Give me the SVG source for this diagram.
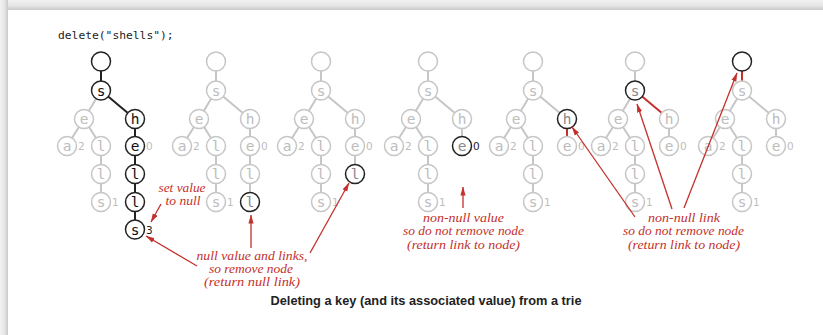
<svg xmlns="http://www.w3.org/2000/svg" width="823" height="335" viewBox="0 0 823 335">
<defs>
<linearGradient id="gTop" x1="0" y1="0" x2="0" y2="1"><stop offset="0" stop-color="#f2f2f2"/><stop offset="0.6" stop-color="#e4e4e4"/><stop offset="1" stop-color="#c8c8c8"/></linearGradient>
<linearGradient id="gLeft" x1="0" y1="0" x2="1" y2="0"><stop offset="0" stop-color="#f2f2f2"/><stop offset="0.6" stop-color="#e4e4e4"/><stop offset="1" stop-color="#c8c8c8"/></linearGradient>
<marker id="ah" markerUnits="userSpaceOnUse" markerWidth="9" markerHeight="6" refX="8.5" refY="3" orient="auto"><path d="M0,0.4 L9,3 L0,5.6 z" fill="#c4302b"/></marker>
<style>
.n circle{fill:#fff;stroke:#c6c6c6;stroke-width:1.5}
.n.k circle{stroke:#222}
.n text{font-family:"DejaVu Sans Mono",monospace;font-size:14.5px;fill:#bdbdbd;text-anchor:middle}
.n.kt text{fill:#111}
.n text.m{fill:#8a8a8a}
.n text.v{font-family:"DejaVu Sans",sans-serif;font-size:10.5px;text-anchor:start;fill:#bdbdbd}
.n text.vk{fill:#222}
.eg{stroke:#c6c6c6;stroke-width:2;fill:none}
.ek{stroke:#222;stroke-width:2;fill:none}
.er{stroke:#c4302b;stroke-width:2;fill:none}
.ar{stroke:#c4302b;stroke-width:1.3;fill:none;marker-end:url(#ah)}
.an{font-family:"Liberation Serif",serif;font-style:italic;font-size:12px;fill:#c4302b;text-anchor:middle}
</style>
</defs>
<rect width="823" height="335" fill="#fff"/>
<rect x="0" y="0" width="823" height="10" fill="url(#gTop)"/>
<rect x="0" y="0" width="8" height="335" fill="url(#gLeft)"/>
<text x="58" y="38.5" font-family="DejaVu Sans Mono,monospace" font-size="11.3" fill="#222">delete("shells");</text>

<g id="connectors">
<line class="ek" x1="101" y1="61.5" x2="101" y2="90.5"/>
<line class="eg" x1="101" y1="90.5" x2="84" y2="119"/>
<line class="ek" x1="101" y1="90.5" x2="135" y2="119"/>
<line class="eg" x1="84" y1="119" x2="67" y2="146"/>
<line class="eg" x1="84" y1="119" x2="101" y2="146"/>
<line class="eg" x1="101" y1="146" x2="101" y2="202"/>
<line class="ek" x1="135" y1="119" x2="135" y2="229.5"/>
<line class="eg" x1="216" y1="61.5" x2="216" y2="90.5"/>
<line class="eg" x1="216" y1="90.5" x2="199" y2="119"/>
<line class="eg" x1="216" y1="90.5" x2="250" y2="119"/>
<line class="eg" x1="199" y1="119" x2="182" y2="146"/>
<line class="eg" x1="199" y1="119" x2="216" y2="146"/>
<line class="eg" x1="216" y1="146" x2="216" y2="202"/>
<line class="eg" x1="250" y1="119" x2="250" y2="202"/>
<line class="eg" x1="321" y1="61.5" x2="321" y2="90.5"/>
<line class="eg" x1="321" y1="90.5" x2="304" y2="119"/>
<line class="eg" x1="321" y1="90.5" x2="355" y2="119"/>
<line class="eg" x1="304" y1="119" x2="287" y2="146"/>
<line class="eg" x1="304" y1="119" x2="321" y2="146"/>
<line class="eg" x1="321" y1="146" x2="321" y2="202"/>
<line class="eg" x1="355" y1="119" x2="355" y2="174"/>
<line class="eg" x1="428" y1="61.5" x2="428" y2="90.5"/>
<line class="eg" x1="428" y1="90.5" x2="411" y2="119"/>
<line class="eg" x1="428" y1="90.5" x2="462" y2="119"/>
<line class="eg" x1="411" y1="119" x2="394" y2="146"/>
<line class="eg" x1="411" y1="119" x2="428" y2="146"/>
<line class="eg" x1="428" y1="146" x2="428" y2="202"/>
<line class="eg" x1="462" y1="119" x2="462" y2="146"/>
<line class="eg" x1="533" y1="61.5" x2="533" y2="90.5"/>
<line class="eg" x1="533" y1="90.5" x2="516" y2="119"/>
<line class="eg" x1="533" y1="90.5" x2="567" y2="119"/>
<line class="eg" x1="516" y1="119" x2="499" y2="146"/>
<line class="eg" x1="516" y1="119" x2="533" y2="146"/>
<line class="eg" x1="533" y1="146" x2="533" y2="202"/>
<line class="er" x1="567" y1="119" x2="567" y2="146"/>
<line class="eg" x1="635" y1="61.5" x2="635" y2="90.5"/>
<line class="eg" x1="635" y1="90.5" x2="618" y2="119"/>
<line class="er" x1="635" y1="90.5" x2="669" y2="119"/>
<line class="eg" x1="618" y1="119" x2="601" y2="146"/>
<line class="eg" x1="618" y1="119" x2="635" y2="146"/>
<line class="eg" x1="635" y1="146" x2="635" y2="202"/>
<line class="eg" x1="669" y1="119" x2="669" y2="146"/>
<line class="er" x1="742" y1="61.5" x2="742" y2="90.5"/>
<line class="eg" x1="742" y1="90.5" x2="725" y2="119"/>
<line class="eg" x1="742" y1="90.5" x2="776" y2="119"/>
<line class="eg" x1="725" y1="119" x2="708" y2="146"/>
<line class="eg" x1="725" y1="119" x2="742" y2="146"/>
<line class="eg" x1="742" y1="146" x2="742" y2="202"/>
<line class="eg" x1="776" y1="119" x2="776" y2="146"/>
</g>

<g id="t1-root" class="n k kt"><circle cx="101" cy="61.5" r="9.5"/></g>
<g id="t1-s" class="n k kt"><circle cx="101" cy="90.5" r="9.5"/><text x="101" y="95.5">s</text></g>
<g id="t1-e" class="n"><circle cx="84" cy="119" r="9.5"/><text x="84" y="124">e</text></g>
<g id="t1-h" class="n k kt"><circle cx="135" cy="119" r="9.5"/><text x="135" y="124">h</text></g>
<g id="t1-a" class="n"><circle cx="67" cy="146" r="9.5"/><text x="67" y="151">a</text><text class="v" x="78" y="150">2</text></g>
<g id="t1-l" class="n"><circle cx="101" cy="146" r="9.5"/><text x="101" y="151">l</text></g>
<g id="t1-e2" class="n k kt"><circle cx="135" cy="146" r="9.5"/><text x="135" y="151">e</text><text class="v" x="146" y="150" style="fill:#bdbdbd">0</text></g>
<g id="t1-l2" class="n"><circle cx="101" cy="174" r="9.5"/><text x="101" y="179">l</text></g>
<g id="t1-s2" class="n"><circle cx="101" cy="202" r="9.5"/><text x="101" y="207">s</text><text class="v" x="112" y="206">1</text></g>
<g id="t1-l3" class="n k kt"><circle cx="135" cy="174" r="9.5"/><text x="135" y="179">l</text></g>
<g id="t1-l4" class="n k kt"><circle cx="135" cy="202" r="9.5"/><text x="135" y="207">l</text></g>
<g id="t1-s3" class="n k kt"><circle cx="135" cy="229.5" r="9.5"/><text x="135" y="234.5">s</text><text class="v vk" x="146" y="234">3</text></g>

<g id="t2-root" class="n"><circle cx="216" cy="61.5" r="9.5"/></g>
<g id="t2-s" class="n"><circle cx="216" cy="90.5" r="9.5"/><text x="216" y="95.5">s</text></g>
<g id="t2-e" class="n"><circle cx="199" cy="119" r="9.5"/><text x="199" y="124">e</text></g>
<g id="t2-h" class="n"><circle cx="250" cy="119" r="9.5"/><text x="250" y="124">h</text></g>
<g id="t2-a" class="n"><circle cx="182" cy="146" r="9.5"/><text x="182" y="151">a</text><text class="v" x="193" y="150">2</text></g>
<g id="t2-l" class="n"><circle cx="216" cy="146" r="9.5"/><text x="216" y="151">l</text></g>
<g id="t2-e2" class="n"><circle cx="250" cy="146" r="9.5"/><text x="250" y="151">e</text><text class="v" x="261" y="150">0</text></g>
<g id="t2-l2" class="n"><circle cx="216" cy="174" r="9.5"/><text x="216" y="179">l</text></g>
<g id="t2-s2" class="n"><circle cx="216" cy="202" r="9.5"/><text x="216" y="207">s</text><text class="v" x="227" y="206">1</text></g>
<g id="t2-l3" class="n"><circle cx="250" cy="174" r="9.5"/><text x="250" y="179">l</text></g>
<g id="t2-l4" class="n k"><circle cx="250" cy="202" r="9.5"/><text class="m" x="250" y="207">l</text></g>

<g id="t3-root" class="n"><circle cx="321" cy="61.5" r="9.5"/></g>
<g id="t3-s" class="n"><circle cx="321" cy="90.5" r="9.5"/><text x="321" y="95.5">s</text></g>
<g id="t3-e" class="n"><circle cx="304" cy="119" r="9.5"/><text x="304" y="124">e</text></g>
<g id="t3-h" class="n"><circle cx="355" cy="119" r="9.5"/><text x="355" y="124">h</text></g>
<g id="t3-a" class="n"><circle cx="287" cy="146" r="9.5"/><text x="287" y="151">a</text><text class="v" x="298" y="150">2</text></g>
<g id="t3-l" class="n"><circle cx="321" cy="146" r="9.5"/><text x="321" y="151">l</text></g>
<g id="t3-e2" class="n"><circle cx="355" cy="146" r="9.5"/><text x="355" y="151">e</text><text class="v" x="366" y="150">0</text></g>
<g id="t3-l2" class="n"><circle cx="321" cy="174" r="9.5"/><text x="321" y="179">l</text></g>
<g id="t3-s2" class="n"><circle cx="321" cy="202" r="9.5"/><text x="321" y="207">s</text><text class="v" x="332" y="206">1</text></g>
<g id="t3-l3" class="n k"><circle cx="355" cy="174" r="9.5"/><text class="m" x="355" y="179">l</text></g>

<g id="t4-root" class="n"><circle cx="428" cy="61.5" r="9.5"/></g>
<g id="t4-s" class="n"><circle cx="428" cy="90.5" r="9.5"/><text x="428" y="95.5">s</text></g>
<g id="t4-e" class="n"><circle cx="411" cy="119" r="9.5"/><text x="411" y="124">e</text></g>
<g id="t4-h" class="n"><circle cx="462" cy="119" r="9.5"/><text x="462" y="124">h</text></g>
<g id="t4-a" class="n"><circle cx="394" cy="146" r="9.5"/><text x="394" y="151">a</text><text class="v" x="405" y="150">2</text></g>
<g id="t4-l" class="n"><circle cx="428" cy="146" r="9.5"/><text x="428" y="151">l</text></g>
<g id="t4-e2" class="n k"><circle cx="462" cy="146" r="9.5"/><text class="m" x="462" y="151">e</text><text class="v vk" x="473" y="150">0</text></g>
<g id="t4-l2" class="n"><circle cx="428" cy="174" r="9.5"/><text x="428" y="179">l</text></g>
<g id="t4-s2" class="n"><circle cx="428" cy="202" r="9.5"/><text x="428" y="207">s</text><text class="v" x="439" y="206">1</text></g>

<g id="t5-root" class="n"><circle cx="533" cy="61.5" r="9.5"/></g>
<g id="t5-s" class="n"><circle cx="533" cy="90.5" r="9.5"/><text x="533" y="95.5">s</text></g>
<g id="t5-e" class="n"><circle cx="516" cy="119" r="9.5"/><text x="516" y="124">e</text></g>
<g id="t5-h" class="n k"><circle cx="567" cy="119" r="9.5"/><text class="m" x="567" y="124">h</text></g>
<g id="t5-a" class="n"><circle cx="499" cy="146" r="9.5"/><text x="499" y="151">a</text><text class="v" x="510" y="150">2</text></g>
<g id="t5-l" class="n"><circle cx="533" cy="146" r="9.5"/><text x="533" y="151">l</text></g>
<g id="t5-e2" class="n"><circle cx="567" cy="146" r="9.5"/><text x="567" y="151">e</text><text class="v" x="578" y="150">0</text></g>
<g id="t5-l2" class="n"><circle cx="533" cy="174" r="9.5"/><text x="533" y="179">l</text></g>
<g id="t5-s2" class="n"><circle cx="533" cy="202" r="9.5"/><text x="533" y="207">s</text><text class="v" x="544" y="206">1</text></g>

<g id="t6-root" class="n"><circle cx="635" cy="61.5" r="9.5"/></g>
<g id="t6-s" class="n k"><circle cx="635" cy="90.5" r="9.5"/><text class="m" x="635" y="95.5">s</text></g>
<g id="t6-e" class="n"><circle cx="618" cy="119" r="9.5"/><text x="618" y="124">e</text></g>
<g id="t6-h" class="n"><circle cx="669" cy="119" r="9.5"/><text x="669" y="124">h</text></g>
<g id="t6-a" class="n"><circle cx="601" cy="146" r="9.5"/><text x="601" y="151">a</text><text class="v" x="612" y="150">2</text></g>
<g id="t6-l" class="n"><circle cx="635" cy="146" r="9.5"/><text x="635" y="151">l</text></g>
<g id="t6-e2" class="n"><circle cx="669" cy="146" r="9.5"/><text x="669" y="151">e</text><text class="v" x="680" y="150">0</text></g>
<g id="t6-l2" class="n"><circle cx="635" cy="174" r="9.5"/><text x="635" y="179">l</text></g>
<g id="t6-s2" class="n"><circle cx="635" cy="202" r="9.5"/><text x="635" y="207">s</text><text class="v" x="646" y="206">1</text></g>

<g id="t7-root" class="n k"><circle cx="742" cy="61.5" r="9.5"/></g>
<g id="t7-s" class="n"><circle cx="742" cy="90.5" r="9.5"/><text x="742" y="95.5">s</text></g>
<g id="t7-e" class="n"><circle cx="725" cy="119" r="9.5"/><text x="725" y="124">e</text></g>
<g id="t7-h" class="n"><circle cx="776" cy="119" r="9.5"/><text x="776" y="124">h</text></g>
<g id="t7-a" class="n"><circle cx="708" cy="146" r="9.5"/><text x="708" y="151">a</text><text class="v" x="719" y="150">2</text></g>
<g id="t7-l" class="n"><circle cx="742" cy="146" r="9.5"/><text x="742" y="151">l</text></g>
<g id="t7-e2" class="n"><circle cx="776" cy="146" r="9.5"/><text x="776" y="151">e</text><text class="v" x="787" y="150">0</text></g>
<g id="t7-l2" class="n"><circle cx="742" cy="174" r="9.5"/><text x="742" y="179">l</text></g>
<g id="t7-s2" class="n"><circle cx="742" cy="202" r="9.5"/><text x="742" y="207">s</text><text class="v" x="753" y="206">1</text></g>

<g id="annotation-arrows">
<line class="ar" x1="161" y1="204" x2="151" y2="222"/>
<line class="ar" x1="197" y1="266" x2="146" y2="236"/>
<line class="ar" x1="251" y1="248" x2="251" y2="215"/>
<line class="ar" x1="310" y1="253" x2="349" y2="183"/>
<line class="ar" x1="463" y1="208" x2="463" y2="187"/>
<line class="ar" x1="635" y1="217" x2="572" y2="127"/>
<line class="ar" x1="672" y1="209" x2="637" y2="104"/>
<line class="ar" x1="684" y1="208" x2="737" y2="73"/>
</g>
<g id="labels">
<text class="an" x="182" y="191.5" textLength="47" lengthAdjust="spacingAndGlyphs">set value</text>
<text class="an" x="183" y="204.8" textLength="35" lengthAdjust="spacingAndGlyphs">to null</text>
<text class="an" x="252" y="259.5" textLength="111" lengthAdjust="spacingAndGlyphs">null value and links,</text>
<text class="an" x="251" y="272.8" textLength="84" lengthAdjust="spacingAndGlyphs">so remove node</text>
<text class="an" x="252" y="286.1" textLength="96" lengthAdjust="spacingAndGlyphs">(return null link)</text>
<text class="an" x="463.5" y="222" textLength="81" lengthAdjust="spacingAndGlyphs">non-null value</text>
<text class="an" x="463.5" y="235.3" textLength="121" lengthAdjust="spacingAndGlyphs">so do not remove node</text>
<text class="an" x="463.5" y="248.6" textLength="113" lengthAdjust="spacingAndGlyphs">(return link to node)</text>
<text class="an" x="684" y="222" textLength="72" lengthAdjust="spacingAndGlyphs">non-null link</text>
<text class="an" x="683.5" y="235.3" textLength="121" lengthAdjust="spacingAndGlyphs">so do not remove node</text>
<text class="an" x="684" y="248.6" textLength="112" lengthAdjust="spacingAndGlyphs">(return link to node)</text>
</g>
<text x="426" y="305" font-family="Liberation Sans,Arial,sans-serif" font-weight="bold" font-size="12.5" fill="#222" text-anchor="middle" textLength="311" lengthAdjust="spacingAndGlyphs">Deleting a key (and its associated value) from a trie</text>
</svg>
